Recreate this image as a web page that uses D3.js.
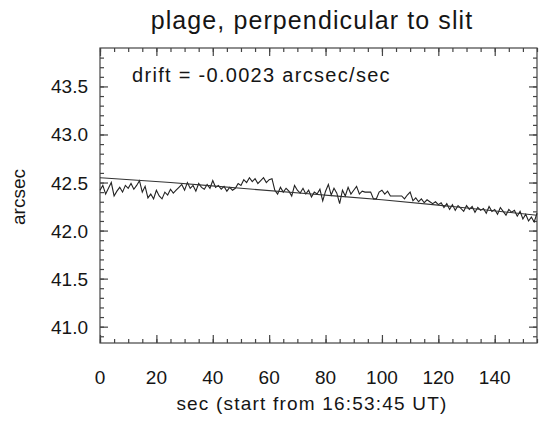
<!DOCTYPE html>
<html>
<head>
<meta charset="utf-8">
<script src="https://cdn.jsdelivr.net/npm/d3@7"></script>
<style>
body { margin: 0; background: #fff; }
text { font-family: "Liberation Sans", Arial, Helvetica, sans-serif; fill: #151515; }
.axis path, .axis line { stroke: #444; stroke-width: 1.2; }
</style>
</head>
<body>
<div></div>
<script>
var w = 539;
var h = 422;

// measured position (arcsec), one sample per second
var position = [
	42.42, 42.47, 42.38, 42.44, 42.50, 42.36, 42.41, 42.45, 42.40, 42.47,
	42.44, 42.49, 42.43, 42.47, 42.52, 42.40, 42.46, 42.34, 42.38, 42.33,
	42.42, 42.36, 42.33, 42.40, 42.37, 42.43, 42.39, 42.42, 42.45, 42.48,
	42.42, 42.50, 42.44, 42.47, 42.41, 42.49, 42.45, 42.43, 42.48, 42.44,
	42.52, 42.45, 42.47, 42.43, 42.46, 42.41, 42.45, 42.42, 42.44, 42.49,
	42.47, 42.53, 42.50, 42.55, 42.51, 42.54, 42.49, 42.52, 42.55, 42.50,
	42.53, 42.54, 42.42, 42.38, 42.45, 42.40, 42.44, 42.41, 42.36, 42.47,
	42.42, 42.39, 42.44, 42.38, 42.42, 42.35, 42.40, 42.38, 42.43, 42.31,
	42.41, 42.48, 42.37, 42.44, 42.39, 42.28, 42.42, 42.36, 42.45, 42.38,
	42.42, 42.46, 42.38, 42.41, 42.40, 42.40, 42.40, 42.33, 42.33, 42.40,
	42.42, 42.38, 42.41, 42.36, 42.36, 42.36, 42.36, 42.36, 42.33, 42.37,
	42.40, 42.31, 42.34, 42.30, 42.33, 42.29, 42.32, 42.30, 42.28, 42.30,
	42.27, 42.29, 42.24, 42.28, 42.22, 42.27, 42.21, 42.26, 42.23, 42.20,
	42.26, 42.22, 42.25, 42.19, 42.24, 42.21, 42.23, 42.18, 42.25, 42.20,
	42.22, 42.17, 42.24, 42.20, 42.16, 42.22, 42.19, 42.21, 42.15, 42.20,
	42.12, 42.17, 42.10, 42.14, 42.09, 42.18
];

// fitted drift curve, read at a few points
var fitX = [0, 25, 50, 75, 100, 125, 155];
var fitY = [42.55, 42.50, 42.44, 42.38, 42.32, 42.25, 42.16];

var xTicks = [0, 20, 40, 60, 80, 100, 120, 140];
var yTicks = [41.0, 41.5, 42.0, 42.5, 43.0, 43.5];

var svg = d3.select("div").append("svg")
	.attr("width", w)
	.attr("height", h);

var padLeft = 100, padRight = 537, padTop = 48, padBottom = 343;

var x = d3.scaleLinear().domain([0, 155]).range([padLeft, padRight]);
var y = d3.scaleLinear().domain([40.83, 43.9]).range([padBottom, padTop]);

var xMinor = d3.range(0, 156, 5);
var yMinor = d3.range(40.9, 43.9, 0.1);

//ticks on all four sides, pointing inward
function tickAxis(axisFn, scale, values, size, tf) {
	svg.append("g")
		.attr("class", "axis")
		.attr("transform", tf)
		.call(axisFn(scale).tickValues(values).tickSize(size).tickFormat(""))
		.call(function(g) { g.select(".domain").remove(); });
}

tickAxis(d3.axisTop, x, xMinor, 4, "translate(0," + padBottom + ")");
tickAxis(d3.axisTop, x, xTicks, 8, "translate(0," + padBottom + ")");
tickAxis(d3.axisBottom, x, xMinor, 4, "translate(0," + padTop + ")");
tickAxis(d3.axisBottom, x, xTicks, 8, "translate(0," + padTop + ")");
tickAxis(d3.axisRight, y, yMinor, 4, "translate(" + padLeft + ",0)");
tickAxis(d3.axisRight, y, yTicks, 8, "translate(" + padLeft + ",0)");
tickAxis(d3.axisLeft, y, yMinor, 4, "translate(" + padRight + ",0)");
tickAxis(d3.axisLeft, y, yTicks, 8, "translate(" + padRight + ",0)");

svg.append("rect")
	.attr("x", padLeft)
	.attr("y", padTop)
	.attr("width", padRight - padLeft)
	.attr("height", padBottom - padTop)
	.attr("fill", "none")
	.attr("stroke", "#444")
	.attr("stroke-width", 1.2);

//tick labels
svg.selectAll("text.xlab")
	.data(xTicks)
	.enter()
	.append("text")
	.attr("class", "xlab")
	.attr("x", function(d) { return x(d); })
	.attr("y", 384)
	.attr("text-anchor", "middle")
	.style("font-size", "19px")
	.text(function(d) { return d; });

svg.selectAll("text.ylab")
	.data(yTicks)
	.enter()
	.append("text")
	.attr("class", "ylab")
	.attr("x", 88)
	.attr("y", function(d) { return y(d) + 7; })
	.attr("text-anchor", "end")
	.style("font-size", "19px")
	.text(function(d) { return d.toFixed(1); });

var line = d3.line()
	.x(function(d, i) { return x(i); })
	.y(function(d) { return y(d); });

svg.append("path")
	.datum(position)
	.attr("d", line)
	.attr("fill", "none")
	.attr("stroke", "#222")
	.attr("stroke-width", 1.1);

var fitLine = d3.line()
	.curve(d3.curveMonotoneX)
	.x(function(d, i) { return x(fitX[i]); })
	.y(function(d) { return y(d); });

svg.append("path")
	.datum(fitY)
	.attr("d", fitLine)
	.attr("fill", "none")
	.attr("stroke", "#333")
	.attr("stroke-width", 1.1);

svg.append("text")
	.attr("x", 312)
	.attr("y", 29)
	.attr("text-anchor", "middle")
	.style("font-size", "25px")
	.style("letter-spacing", "1.1px")
	.text("plage, perpendicular to slit");

svg.append("text")
	.attr("x", 132)
	.attr("y", 82)
	.style("font-size", "20px")
	.style("letter-spacing", "1.3px")
	.text("drift = -0.0023 arcsec/sec");

svg.append("text")
	.attr("x", 312)
	.attr("y", 410)
	.attr("text-anchor", "middle")
	.style("font-size", "19px")
	.style("letter-spacing", "1.2px")
	.text("sec (start from 16:53:45 UT)");

svg.append("text")
	.attr("transform", "translate(25,197) rotate(-90)")
	.attr("text-anchor", "middle")
	.style("font-size", "19px")
	.text("arcsec");
</script>
</body>
</html>
